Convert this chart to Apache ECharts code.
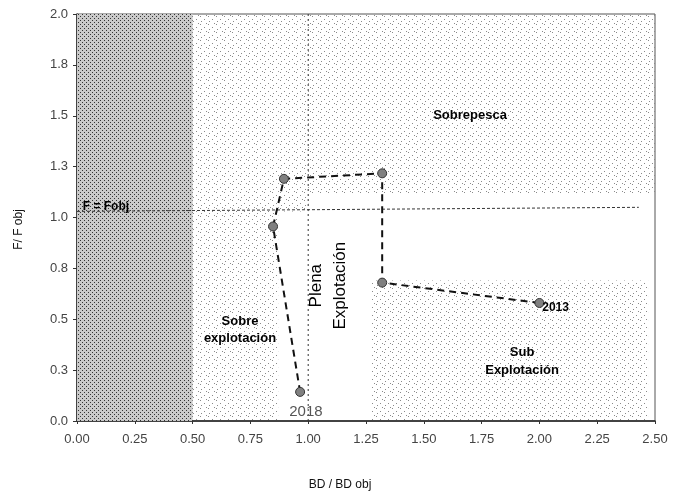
<!DOCTYPE html>
<html>
<head>
<meta charset="utf-8">
<script src="https://cdn.jsdelivr.net/npm/echarts@6/dist/echarts.min.js"></script>
<style>
  html, body { margin: 0; padding: 0; background: #fff; }
  #chart { width: 673px; height: 496px; }
</style>
</head>
<body>
<div id="chart"></div>
<script>
// ---- data ----
const years = ['2013', '', '', '', '', '2018'];
const bdRatio = [2.0, 1.32, 1.32, 0.895, 0.848, 0.965];   // BD / BD obj
const fRatio  = [0.58, 0.68, 1.217, 1.19, 0.956, 0.143];  // F / F obj

const xTicks = [0, 0.25, 0.5, 0.75, 1.0, 1.25, 1.5, 1.75, 2.0, 2.25, 2.5];
const xTickLabels = ['0.00','0.25','0.50','0.75','1.00','1.25','1.50','1.75','2.00','2.25','2.50'];
const yTicks = [0, 0.25, 0.5, 0.75, 1.0, 1.25, 1.5, 1.75, 2.0];
const yTickLabels = ['0.0','0.3','0.5','0.8','1.0','1.3','1.5','1.8','2.0'];

// reference lines
const fObjX = [0, 2.43];
const fObjY = [1.03, 1.05];
const bdObjX = [1.0, 1.0];
const bdObjY = [0, 2.0];

// zones [x0, y0, x1, y1]
const collapseZone = [[0, 0, 0.5, 2.0]];
const stippleZones = [
  [0.5, 0, 0.87, 2.0],
  [0.87, 1.03, 1.0, 2.0],
  [1.0, 1.12, 2.5, 2.0],
  [1.27, 0, 2.47, 0.69]
];

// annotations
const annText = ['Sobrepesca', 'Sobre\nexplotación', 'Plena\nExplotación', 'Sub\nExplotación', '2013', '2018', 'F = Fobj'];
const annX = [1.70, 0.705, 1.085, 1.925, 2.07, 0.99, 0.125];
const annY = [1.50, 0.45, 0.665, 0.295, 0.555, 0.045, 1.055];

// ---- styles ----
function makePattern(size, bg, dots, dotColor) {
  const c = document.createElement('canvas');
  c.width = size; c.height = size;
  const ctx = c.getContext('2d');
  if (bg) { ctx.fillStyle = bg; ctx.fillRect(0, 0, size, size); }
  ctx.fillStyle = dotColor;
  dots.forEach(function (d) { ctx.fillRect(d[0], d[1], 1, 1); });
  return c;
}
const darkPat = { image: makePattern(4, '#cacaca', [[0, 0], [2, 2]], '#333'), repeat: 'repeat' };
const lightPat = { image: makePattern(8, null, [[0, 0], [4, 3], [1, 5], [6, 7]], '#8a8a8a'), repeat: 'repeat' };

const annStyles = [
  { fontSize: 13, fontWeight: 'bold', color: '#000' },
  { fontSize: 13, fontWeight: 'bold', color: '#000', lineHeight: 17 },
  { fontSize: 17, color: '#000', rotate: 90, lineHeight: 24 },
  { fontSize: 13, fontWeight: 'bold', color: '#000', lineHeight: 18 },
  { fontSize: 12, fontWeight: 'bold', color: '#000' },
  { fontSize: 15, color: '#555' },
  { fontSize: 12, fontWeight: 'bold', color: '#000' }
];

const ff = '"Liberation Sans", Arial, sans-serif';

const chart = echarts.init(document.getElementById('chart'));
chart.setOption({
  animation: false,
  textStyle: { fontFamily: ff },
  grid: { left: 77, right: 18, top: 14, bottom: 75, show: true, borderColor: '#555', borderWidth: 1 },
  xAxis: {
    type: 'value', min: 0, max: 2.5, interval: 0.25,
    name: 'BD / BD obj', nameLocation: 'middle', nameGap: 58,
    nameTextStyle: { fontSize: 12, color: '#111', padding: [0, 52, 0, 0] },
    axisLine: { show: true, onZero: false, lineStyle: { color: '#222', width: 1.5 } },
    axisTick: { show: true, length: 3, lineStyle: { color: '#333' } },
    axisLabel: {
      margin: 12, fontSize: 13, color: '#444',
      formatter: function (v) { const i = xTicks.findIndex(function (t) { return Math.abs(t - v) < 1e-6; }); return i >= 0 ? xTickLabels[i] : ''; }
    },
    splitLine: { show: false }
  },
  yAxis: {
    type: 'value', min: 0, max: 2.0, interval: 0.25,
    name: 'F/ F obj', nameLocation: 'middle', nameGap: 52, nameRotate: 90,
    nameTextStyle: { fontSize: 12, color: '#111', padding: [0, 24, 0, 0] },
    axisLine: { show: true, onZero: false, lineStyle: { color: '#222', width: 1.5 } },
    axisTick: { show: true, length: 4, lineStyle: { color: '#333' } },
    axisLabel: {
      margin: 9, fontSize: 13, color: '#444',
      formatter: function (v) { const i = yTicks.findIndex(function (t) { return Math.abs(t - v) < 1e-6; }); return i >= 0 ? yTickLabels[i] : ''; }
    },
    splitLine: { show: false }
  },
  series: [
    {
      name: 'zones', type: 'line', data: [], silent: true,
      markArea: {
        silent: true,
        data: collapseZone.map(function (z) {
          return [{ coord: [z[0], z[1]], itemStyle: { color: darkPat } }, { coord: [z[2], z[3]] }];
        }).concat(stippleZones.map(function (z) {
          return [{ coord: [z[0], z[1]], itemStyle: { color: lightPat } }, { coord: [z[2], z[3]] }];
        }))
      }
    },
    {
      name: 'F = Fobj', type: 'line', symbol: 'none', silent: true, z: 3,
      data: fObjX.map(function (x, i) { return [x, fObjY[i]]; }),
      lineStyle: { color: '#333', width: 1, type: [3, 2] }
    },
    {
      name: 'BD = BDobj', type: 'line', symbol: 'none', silent: true, z: 3,
      data: bdObjX.map(function (x, i) { return [x, bdObjY[i]]; }),
      lineStyle: { color: '#333', width: 1, type: [2, 3] }
    },
    {
      name: 'trayectoria', type: 'line', z: 5,
      data: bdRatio.map(function (x, i) { return [x, fRatio[i]]; }),
      symbol: 'circle', symbolSize: 9,
      itemStyle: { color: '#808080', borderColor: '#333', borderWidth: 1 },
      lineStyle: { color: '#111', width: 2, type: [7, 5] }
    },
    {
      name: 'textos', type: 'scatter', symbol: 'circle', symbolSize: 1, silent: true, z: 6,
      itemStyle: { color: 'rgba(0,0,0,0)', opacity: 1 },
      data: annText.map(function (t, i) {
        return {
          value: [annX[i], annY[i]],
          label: Object.assign({ show: true, position: 'inside', formatter: t, align: 'center', verticalAlign: 'middle', fontFamily: ff, opacity: 1 }, annStyles[i])
        };
      })
    }
  ]
});
</script>
</body>
</html>
